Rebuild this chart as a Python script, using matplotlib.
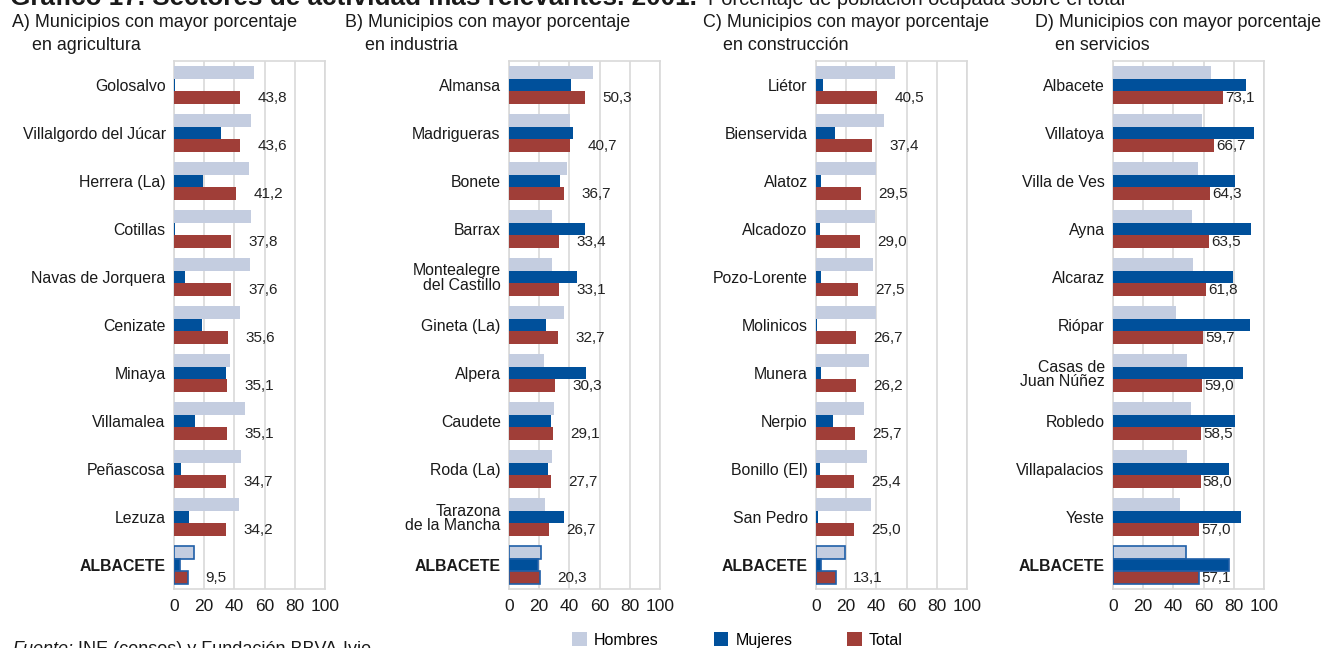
import matplotlib
matplotlib.use("Agg")
import matplotlib.pyplot as plt
from matplotlib.patches import Patch
from matplotlib import font_manager

# ---------------- data ----------------
cat_a = ["Golosalvo", "Villalgordo del Júcar", "Herrera (La)", "Cotillas", "Navas de Jorquera",
         "Cenizate", "Minaya", "Villamalea", "Peñascosa", "Lezuza", "ALBACETE"]
hom_a = [53.3, 51.1, 49.8, 51.3, 50.0, 44.0, 36.9, 47.1, 44.7, 43.1, 13.3]
muj_a = [0.6, 31.3, 19.1, 0.6, 7.3, 18.7, 34.4, 14.0, 4.7, 10.2, 4.0]
tot_a = [43.8, 43.6, 41.2, 37.8, 37.6, 35.6, 35.1, 35.1, 34.7, 34.2, 9.5]

cat_b = ["Almansa", "Madrigueras", "Bonete", "Barrax", "Montealegre\ndel Castillo", "Gineta (La)",
         "Alpera", "Caudete", "Roda (La)", "Tarazona\nde la Mancha", "ALBACETE"]
hom_b = [55.3, 40.7, 38.4, 28.2, 28.7, 36.2, 22.9, 30.0, 28.7, 23.8, 21.1]
muj_b = [41.1, 42.4, 33.6, 50.2, 44.9, 24.7, 50.7, 27.8, 25.6, 36.2, 19.3]
tot_b = [50.3, 40.7, 36.7, 33.4, 33.1, 32.7, 30.3, 29.1, 27.7, 26.7, 20.3]

cat_c = ["Liétor", "Bienservida", "Alatoz", "Alcadozo", "Pozo-Lorente", "Molinicos",
         "Munera", "Nerpio", "Bonillo (El)", "San Pedro", "ALBACETE"]
hom_c = [52.0, 45.3, 40.0, 39.3, 38.0, 39.6, 35.3, 31.8, 33.6, 36.7, 19.1]
muj_c = [4.4, 12.7, 3.3, 2.7, 3.3, 0.7, 3.1, 11.3, 2.7, 1.6, 3.1]
tot_c = [40.5, 37.4, 29.5, 29.0, 27.5, 26.7, 26.2, 25.7, 25.4, 25.0, 13.1]

cat_d = ["Albacete", "Villatoya", "Villa de Ves", "Ayna", "Alcaraz", "Riópar",
         "Casas de\nJuan Núñez", "Robledo", "Villapalacios", "Yeste", "ALBACETE"]
hom_d = [64.9, 58.9, 56.0, 52.0, 52.7, 41.6, 49.1, 51.6, 49.3, 44.2, 48.4]
muj_d = [88.4, 93.1, 80.7, 91.6, 79.8, 90.9, 86.0, 80.9, 76.7, 84.9, 77.1]
tot_d = [73.1, 66.7, 64.3, 63.5, 61.8, 59.7, 59.0, 58.5, 58.0, 57.0, 57.1]

titles = ["A) Municipios con mayor porcentaje\n    en agricultura",
          "B) Municipios con mayor porcentaje\n    en industria",
          "C) Municipios con mayor porcentaje\n    en construcción",
          "D) Municipios con mayor porcentaje\n    en servicios"]
xticks = [0, 20, 40, 60, 80, 100]
series_names = ["Hombres", "Mujeres", "Total"]

# ---------------- style ----------------
C_H = "#c4cde0"
C_M = "#00509b"
C_T = "#a03e38"
GRID = "#d9d9d9"
EDGE = "#1f5fa8"

names = {f.name for f in font_manager.fontManager.ttflist}
NARROW = "Liberation Sans Narrow" if "Liberation Sans Narrow" in names else "Liberation Sans"
plt.rcParams["font.family"] = ["Liberation Sans", "DejaVu Sans"]

W, H = 1321, 648
fig = plt.figure(figsize=(W / 100, H / 100), dpi=100)

panels = [
    (cat_a, hom_a, muj_a, tot_a, 174, 12, 12.5),
    (cat_b, hom_b, muj_b, tot_b, 509, 345, 12.5),
    (cat_c, hom_c, muj_c, tot_c, 816, 703, 12.5),
    (cat_d, hom_d, muj_d, tot_d, 1113, 1035, 1.5),
]
ax_top, ax_bot, ax_w = 61, 589, 151

for k, (cats, hv, mv, tv, x0, tx, loff) in enumerate(panels):
    ax = fig.add_axes([x0 / W, 1 - ax_bot / H, ax_w / W, (ax_bot - ax_top) / H])
    n = len(cats)
    ys = list(range(n))
    bh = 0.26
    for i in ys:
        last = (i == n - 1)
        ec = EDGE if last else "none"
        lw = 1.2 if last else 0
        ax.barh(i - bh, hv[i], height=bh, color=C_H, edgecolor=ec, linewidth=lw, zorder=3)
        ax.barh(i, mv[i], height=bh, color=C_M, edgecolor=ec, linewidth=lw, zorder=3)
        ax.barh(i + bh, tv[i], height=bh, color=C_T, edgecolor=ec, linewidth=lw, zorder=3)
        ax.annotate(f"{tv[i]:.1f}".replace(".", ","), xy=(tv[i], i + bh + 0.02),
                    xytext=(loff, 0), textcoords="offset points",
                    ha="left", va="center", fontsize=11, family=NARROW,
                    color="#222222", zorder=4)
    ax.set_xlim(0, 100)
    ax.set_ylim(n - 0.5, -0.5)
    ax.set_xticks(xticks)
    ax.set_xticklabels([str(t) for t in xticks], fontsize=12.5, family=NARROW)
    ax.set_yticks(ys)
    ax.set_yticklabels(cats, fontsize=11.4)
    for lab in ax.get_yticklabels():
        lab.set_linespacing(1.0)
        if lab.get_text() == "ALBACETE":
            lab.set_fontweight("bold")
    ax.tick_params(axis="both", length=0, pad=6, colors="#1a1a1a")
    ax.tick_params(axis="x", pad=7)
    ax.grid(axis="x", color=GRID, linewidth=1.2, zorder=0)
    for s in ax.spines.values():
        s.set_color(GRID)
        s.set_linewidth(1.2)
    fig.text(tx / W, 1 - 34 / H, titles[k], fontsize=12.9, family=NARROW,
             ha="left", va="center", linespacing=1.5, color="#1a1a1a")

# top (partly clipped in the reference) title
fig.text(10 / W, 1 - 5 / H, "Gráfico 17. Sectores de actividad más relevantes. 2001.",
         fontsize=18.8, fontweight="bold", ha="left", va="baseline", color="#1a1a1a")
fig.text(708 / W, 1 - 5 / H, "Porcentaje de población ocupada sobre el total",
         fontsize=14.4, family=NARROW, ha="left", va="baseline", color="#1a1a1a")

# source
fig.text(12 / W, 1 - 654 / H, "Fuente:", fontsize=13, style="italic", ha="left",
         va="baseline", color="#1a1a1a")
fig.text(78 / W, 1 - 654 / H, "INE (censos) y Fundación BBVA-Ivie", fontsize=13,
         ha="left", va="baseline", color="#1a1a1a")

# legend
handles = [Patch(facecolor=c, edgecolor="none") for c in (C_H, C_M, C_T)]
fig.legend(handles, series_names, loc="center left", bbox_to_anchor=(558 / W, 1 - 640 / H),
           ncol=3, frameon=False, fontsize=11.5, handlelength=0.9, handleheight=0.9,
           handletextpad=0.45, columnspacing=3.45)

fig.savefig("out.png", dpi=100, facecolor="white")
